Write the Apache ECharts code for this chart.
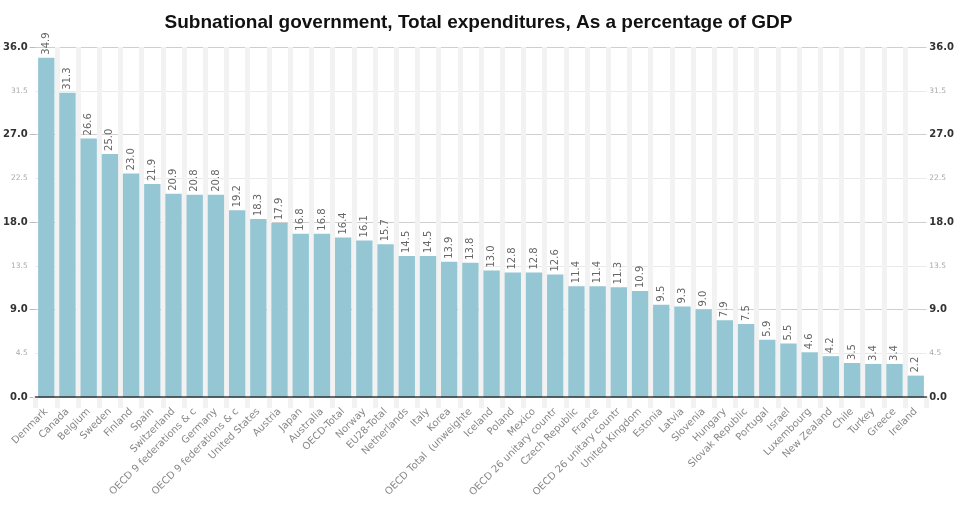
<!DOCTYPE html>
<html>
<head>
<meta charset="utf-8">
<title>Subnational government expenditures</title>
<script src="https://cdn.jsdelivr.net/npm/echarts@6/dist/echarts.min.js"></script>
<style>
  html, body { margin: 0; padding: 0; background: #fff; }
  #chart { width: 957px; height: 514px; }
</style>
</head>
<body>
<div id="chart"></div>
<script>
// Subnational government total expenditures, % of GDP
const categories = [
  'Denmark', 'Canada', 'Belgium', 'Sweden', 'Finland', 'Spain', 'Switzerland',
  'OECD 9 federations & confederations (unweighted)', 'Germany',
  'OECD 9 federations & confederations (weighted)', 'United States', 'Austria',
  'Japan', 'Australia', 'OECD-Total', 'Norway', 'EU28-Total', 'Netherlands',
  'Italy', 'Korea', 'OECD Total  (unweighted)', 'Iceland', 'Poland', 'Mexico',
  'OECD 26 unitary countries (weighted)', 'Czech Republic', 'France',
  'OECD 26 unitary countries (unweighted)', 'United Kingdom', 'Estonia',
  'Latvia', 'Slovenia', 'Hungary', 'Slovak Republic', 'Portugal', 'Israel',
  'Luxembourg', 'New Zealand', 'Chile', 'Turkey', 'Greece', 'Ireland'
];

const expenditures = [
  34.9, 31.3, 26.6, 25.0, 23.0, 21.9, 20.9, 20.8, 20.8, 19.2, 18.3, 17.9,
  16.8, 16.8, 16.4, 16.1, 15.7, 14.5, 14.5, 13.9, 13.8, 13.0, 12.8, 12.8,
  12.6, 11.4, 11.4, 11.3, 10.9, 9.5, 9.3, 9.0, 7.9, 7.5, 5.9, 5.5,
  4.6, 4.2, 3.5, 3.4, 3.4, 2.2
];

// value axis range and tick steps
const yMin = 0;
const yMax = 36;
const majorStep = 9;
const minorStep = 4.5;

const MAX_LABEL_CHARS = 22;
const fmt1 = v => Number(v).toFixed(1);
const isMajor = v => Math.abs(v / majorStep - Math.round(v / majorStep)) < 1e-9;

const chart = echarts.init(document.getElementById('chart'), null, { renderer: 'canvas' });

function majorAxis(position, margin, tickLen) {
  return {
    type: 'value', position, min: yMin, max: yMax, interval: majorStep,
    axisLine: { show: false },
    axisTick: { show: tickLen > 0, length: tickLen, lineStyle: { color: '#bbb' } },
    axisLabel: {
      margin, fontFamily: 'DejaVu Sans', fontSize: 10, fontWeight: 'bold',
      color: '#333', formatter: fmt1
    },
    splitLine: { show: true, lineStyle: { color: '#cfcfcf', width: 1 } }
  };
}

function minorAxis(position, margin) {
  return {
    type: 'value', position, min: yMin, max: yMax, interval: minorStep,
    axisLine: { show: false },
    axisTick: { show: false },
    axisLabel: {
      margin, fontFamily: 'DejaVu Sans', fontSize: 7.5, color: '#aaa',
      formatter: v => (isMajor(v) ? '' : fmt1(v))
    },
    splitLine: { show: true, lineStyle: { color: ['rgba(0,0,0,0)', '#e9e9e9'], width: 1 } }
  };
}

const option = {
  backgroundColor: '#fff',
  animation: false,
  title: {
    text: 'Subnational government, Total expenditures, As a percentage of GDP',
    left: 'center',
    top: 8,
    textStyle: { fontFamily: 'Liberation Sans', fontSize: 19, fontWeight: 'bold', color: '#111' }
  },
  grid: { left: 35, right: 25, top: 47, bottom: 117, containLabel: false },
  xAxis: [
    {
      type: 'category', data: categories, position: 'bottom', z: 5,
      axisLine: { show: true, lineStyle: { color: 'rgba(30,30,30,0.65)', width: 2 } },
      axisTick: { show: false },
      splitLine: { show: false },
      axisLabel: {
        interval: 0, rotate: 45, margin: 13,
        fontFamily: 'DejaVu Sans', fontSize: 10, color: '#888',
        formatter: s => s.slice(0, MAX_LABEL_CHARS)
      }
    },
    {
      // light separator stripes between the columns
      type: 'category', data: categories, position: 'bottom', z: 0,
      axisLine: { show: false },
      axisLabel: { show: false, interval: 0 },
      axisTick: { show: true, interval: 0, length: 11, lineStyle: { color: '#f2f2f2', width: 5 } },
      splitLine: {
        show: true, interval: 0, showMinLine: false, showMaxLine: false,
        lineStyle: { color: '#f2f2f2', width: 5 }
      }
    }
  ],
  yAxis: [
    majorAxis('left', 8, 6),
    minorAxis('left', 8),
    majorAxis('right', 3, 0),
    minorAxis('right', 3)
  ],
  series: [
    {
      type: 'bar',
      xAxisIndex: 0,
      yAxisIndex: 0,
      data: expenditures,
      barCategoryGap: '23%',
      itemStyle: { color: '#94c6d3' },
      label: {
        show: true, position: 'top', rotate: 90, align: 'left', verticalAlign: 'middle',
        distance: 3, fontFamily: 'DejaVu Sans', fontSize: 10, color: '#666',
        formatter: p => fmt1(p.value)
      }
    }
  ]
};

chart.setOption(option);
</script>
</body>
</html>
